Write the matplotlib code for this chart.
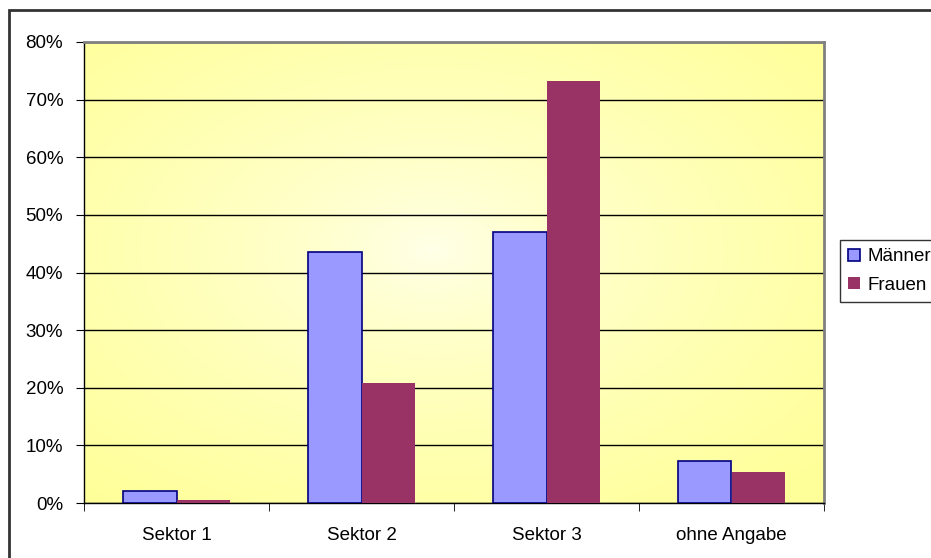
import numpy as np
import matplotlib.pyplot as plt
from matplotlib.patches import Rectangle

plt.rcParams['font.family'] = ['Liberation Sans', 'DejaVu Sans']

categories = ["Sektor 1", "Sektor 2", "Sektor 3", "ohne Angabe"]
maenner = [2.1, 43.6, 47.1, 7.3]
frauen = [0.5, 20.8, 73.2, 5.4]
yticks = [0, 10, 20, 30, 40, 50, 60, 70, 80]

fig = plt.figure(figsize=(9.31, 5.58), dpi=100)
W, H = 931, 558
ax = fig.add_axes([84 / W, 1 - 503 / H, (824 - 84) / W, (503 - 42) / H])

# radial yellow gradient background
gx, gy = np.meshgrid(np.linspace(0, 1, 400), np.linspace(0, 1, 400))
r = np.sqrt(((gx - 0.47) / 0.72) ** 2 + ((gy - 0.55) / 0.72) ** 2)
r = np.clip(r, 0, 1)
c0 = np.array([1.0, 1.0, 0.92])
c1 = np.array([1.0, 1.0, 0.6])
img = c0 + (c1 - c0) * r[..., None] ** 0.7
ax.imshow(img, extent=[0, 1, 0, 1], transform=ax.transAxes, aspect='auto', zorder=0, origin='lower')

x = np.arange(len(categories))
w = 0.29
ax.bar(x - w / 2, maenner, w, color='#9999FF', edgecolor='#000080', linewidth=1.2, label='Männer', zorder=3)
ax.bar(x + w / 2, frauen, w, color='#993366', edgecolor='#993366', linewidth=0, label='Frauen', zorder=3)

ax.set_xlim(-0.5, 3.5)
ax.set_ylim(0, 80)
ax.set_yticks(yticks)
ax.set_yticklabels([f"{t}%" for t in yticks], fontsize=13.5)
ax.set_xticks(x)
ax.set_xticklabels(categories, fontsize=13.5)
ax.set_xticks(np.arange(-0.5, 4, 1), minor=True)
ax.tick_params(axis='x', which='major', length=0, pad=17)
ax.tick_params(axis='x', which='minor', length=6, direction='out', color='black')
ax.tick_params(axis='y', length=6, direction='out', pad=9)
ax.grid(axis='y', color='black', linewidth=1, zorder=1)
ax.set_axisbelow(True)
for s in ['top', 'right']:
    ax.spines[s].set_color('#808080')
    ax.spines[s].set_linewidth(2)
for s in ['left', 'bottom']:
    ax.spines[s].set_color('black')
    ax.spines[s].set_linewidth(1)

leg = fig.legend(loc='upper left', bbox_to_anchor=(840 / W, 1 - 240 / H), fontsize=13.5,
                 frameon=True, fancybox=False, edgecolor='black', handlelength=0.6,
                 handleheight=0.6, handletextpad=0.4, borderpad=0.45, labelspacing=0.6,
                 borderaxespad=0)
leg.get_frame().set_linewidth(1)

# outer chart frame
fig.patches.append(Rectangle((9 / W, -0.1), 1.1, 1 - 10 / H + 0.1, transform=fig.transFigure,
                             fill=False, edgecolor='#333333', linewidth=2))

fig.savefig('out.png', dpi=100)
